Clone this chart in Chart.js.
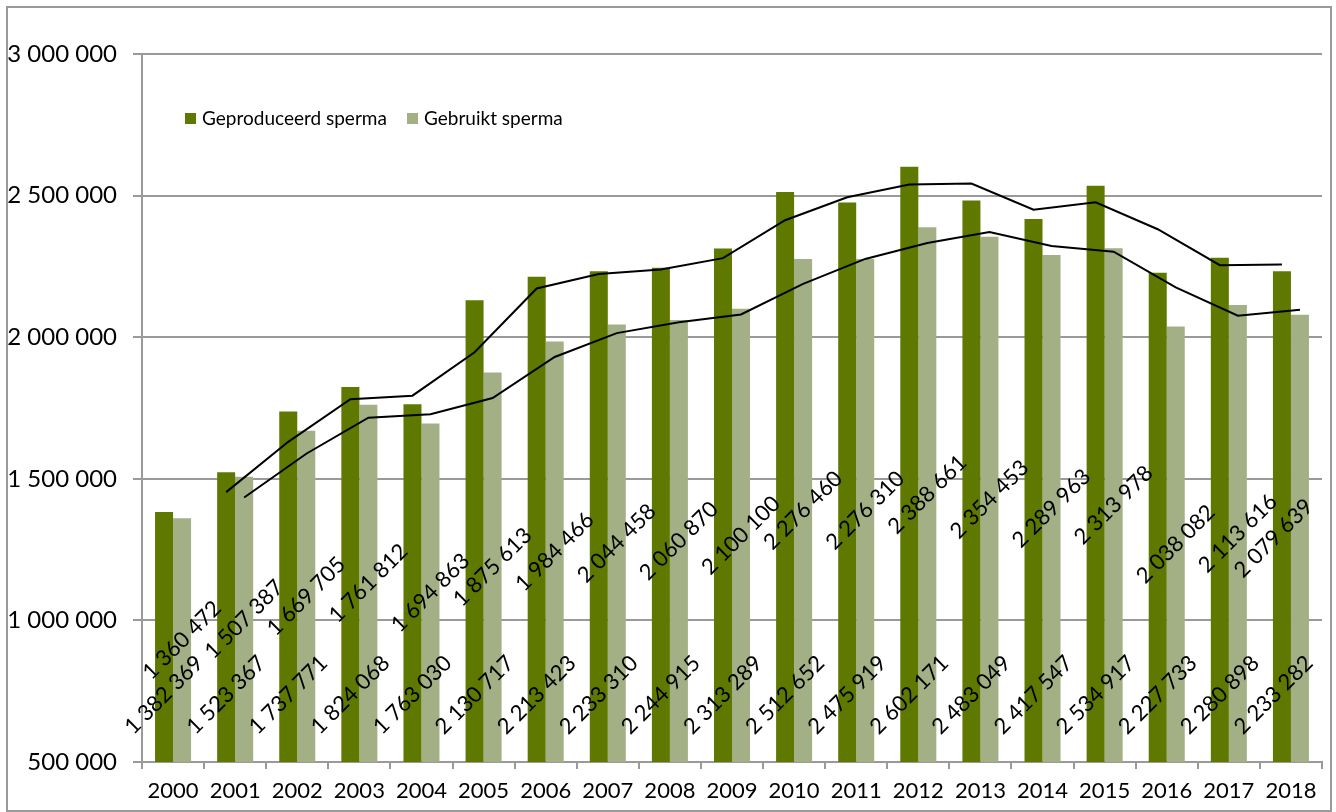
<!DOCTYPE html>
<html lang="nl">
<head>
<meta charset="utf-8">
<title>Geproduceerd en gebruikt sperma 2000-2018</title>
<script src="https://cdn.jsdelivr.net/npm/chart.js@4.4.1/dist/chart.umd.min.js"></script>
<style>
    html, body { margin: 0; padding: 0; background: #fff; }
    #wrap { position: relative; width: 1336px; height: 812px; overflow: hidden; font-family: Lato, sans-serif; }
    #frame { position: absolute; left: 6px; top: 6px; width: 1322px; height: 802px; border: 2px solid #9a9a9a; }
    #chart { position: absolute; left: 0; top: 0; }
    .legend-item { position: absolute; top: 106px; font-size: 19px; line-height: 23px; color: #000; white-space: nowrap; }
    .legend-item .box { position: absolute; left: 0; top: 7px; width: 11px; height: 11px; }
    .legend-item .text { position: absolute; left: 17px; top: 0; }
</style>
</head>
<body>
<div id="wrap">
    <div id="frame"></div>
    <canvas id="chart" width="1336" height="812"></canvas>
    <div class="legend-item" style="left:185px"><span class="box" style="background:#5f7800"></span><span class="text">Geproduceerd sperma</span></div>
    <div class="legend-item" style="left:407px"><span class="box" style="background:#a3b086"></span><span class="text">Gebruikt sperma</span></div>
</div>
<script>
    // --- Gegevens ---
    const years = ['2000', '2001', '2002', '2003', '2004', '2005', '2006', '2007', '2008', '2009',
        '2010', '2011', '2012', '2013', '2014', '2015', '2016', '2017', '2018'];

    const geproduceerd = [1382369, 1523367, 1737771, 1824068, 1763030, 2130717, 2213423, 2233310, 2244915, 2313289,
        2512652, 2475919, 2602171, 2483049, 2417547, 2534917, 2227733, 2280898, 2233282];

    const gebruikt = [1360472, 1507387, 1669705, 1761812, 1694863, 1875613, 1984466, 2044458, 2060870, 2100100,
        2276460, 2276310, 2388661, 2354453, 2289963, 2313978, 2038082, 2113616, 2079639];

    // voortschrijdend gemiddelde over 2 jaar (trendlijnen)
    const trendGeproduceerd = [null, 1452868, 1630569, 1780920, 1793549, 1946874, 2172070, 2223367, 2239113, 2279102,
        2412971, 2494286, 2539045, 2542610, 2450298, 2476232, 2381325, 2254316, 2257090];

    const trendGebruikt = [null, 1433930, 1588546, 1715759, 1728338, 1785238, 1930040, 2014462, 2052664, 2080485,
        2188280, 2276385, 2332486, 2371557, 2322208, 2301971, 2176030, 2075849, 2096628];

    const Y_MIN = 500000;
    const Y_MAX = 3000000;
    const Y_STEP = 500000;

    const DARK = '#5f7800';
    const LIGHT = '#a3b086';
    const GRID = '#9a9a9a';
    const CAT_PCT = 0.58; // breedte van de staafgroep binnen een categorie
    const LABEL_SIZE = 22;

    const fmt = (v) => String(v).replace(/\B(?=(\d{3})+(?!\d))/g, ' ');

    // trendlijn op het midden van de eigen staaf (index-waarde, daarom parsing: false)
    const trendPoints = (values, shift) => values
        .map((v, i) => (v === null ? null : { x: i + shift, y: v }))
        .filter(p => p !== null);

    // --- Schuine waardelabels op de staven ---
    const barLabels = {
        id: 'barLabels',
        afterDatasetsDraw(chart) {
            const { ctx, chartArea } = chart;
            ctx.save();
            ctx.font = LABEL_SIZE + 'px Lato';
            ctx.fillStyle = '#000';
            ctx.textAlign = 'center';
            ctx.textBaseline = 'middle';
            [0, 1].forEach(di => {
                const meta = chart.getDatasetMeta(di);
                const values = chart.data.datasets[di].data;
                meta.data.forEach((bar, i) => {
                    const text = fmt(values[i]);
                    // halve breedte van het gedraaide label, zodat het binnen de plot blijft
                    const half = (ctx.measureText(text).width + LABEL_SIZE * 0.75) * Math.SQRT1_2 / 2;
                    const x = Math.min(bar.x, chartArea.right - 7 - half);
                    // donkere reeks: bij de as, lichte reeks: midden van het zichtbare stuk
                    const y = di === 0 ? chartArea.bottom - 67 : (bar.y + chartArea.bottom) / 2;
                    ctx.save();
                    ctx.translate(x, y);
                    ctx.rotate(-Math.PI / 4);
                    ctx.fillText(text, 0, 0);
                    ctx.restore();
                });
            });
            ctx.restore();
        }
    };

    Chart.defaults.font.family = 'Lato';
    Chart.defaults.color = '#000';

    const ctx = document.getElementById('chart').getContext('2d');
    new Chart(ctx, {
        type: 'bar',
        data: {
            labels: years,
            datasets: [
                {
                    label: 'Geproduceerd sperma',
                    data: geproduceerd,
                    backgroundColor: DARK,
                    categoryPercentage: CAT_PCT,
                    barPercentage: 1,
                    order: 2
                },
                {
                    label: 'Gebruikt sperma',
                    data: gebruikt,
                    backgroundColor: LIGHT,
                    categoryPercentage: CAT_PCT,
                    barPercentage: 1,
                    order: 2
                },
                {
                    type: 'line',
                    label: 'trend geproduceerd',
                    data: trendPoints(trendGeproduceerd, -CAT_PCT / 4),
                    parsing: false,
                    borderColor: '#000',
                    borderWidth: 2,
                    pointRadius: 0,
                    tension: 0,
                    fill: false,
                    order: 1
                },
                {
                    type: 'line',
                    label: 'trend gebruikt',
                    data: trendPoints(trendGebruikt, CAT_PCT / 4),
                    parsing: false,
                    borderColor: '#000',
                    borderWidth: 2,
                    pointRadius: 0,
                    tension: 0,
                    fill: false,
                    order: 1
                }
            ]
        },
        options: {
            responsive: false,
            animation: false,
            layout: { padding: { left: 0, top: 54, right: 14, bottom: 0 } },
            scales: {
                x: {
                    type: 'category',
                    offset: true,
                    grid: {
                        offset: true,
                        drawOnChartArea: false,
                        drawTicks: true,
                        tickLength: 7,
                        color: GRID,
                        lineWidth: 2
                    },
                    border: { color: GRID, width: 2 },
                    ticks: { font: { size: 22 }, padding: 9, maxRotation: 0, autoSkip: false },
                    afterFit: (scale) => { scale.height = 50; }
                },
                y: {
                    min: Y_MIN,
                    max: Y_MAX,
                    grid: { color: GRID, lineWidth: 2, tickLength: 9 },
                    border: { color: GRID, width: 2 },
                    ticks: {
                        stepSize: Y_STEP,
                        font: { size: 24 },
                        padding: 16,
                        callback: (v) => fmt(v)
                    },
                    afterFit: (scale) => { scale.width = 142; }
                }
            },
            plugins: {
                legend: { display: false },
                tooltip: { enabled: false }
            }
        },
        plugins: [barLabels]
    });
</script>
</body>
</html>
